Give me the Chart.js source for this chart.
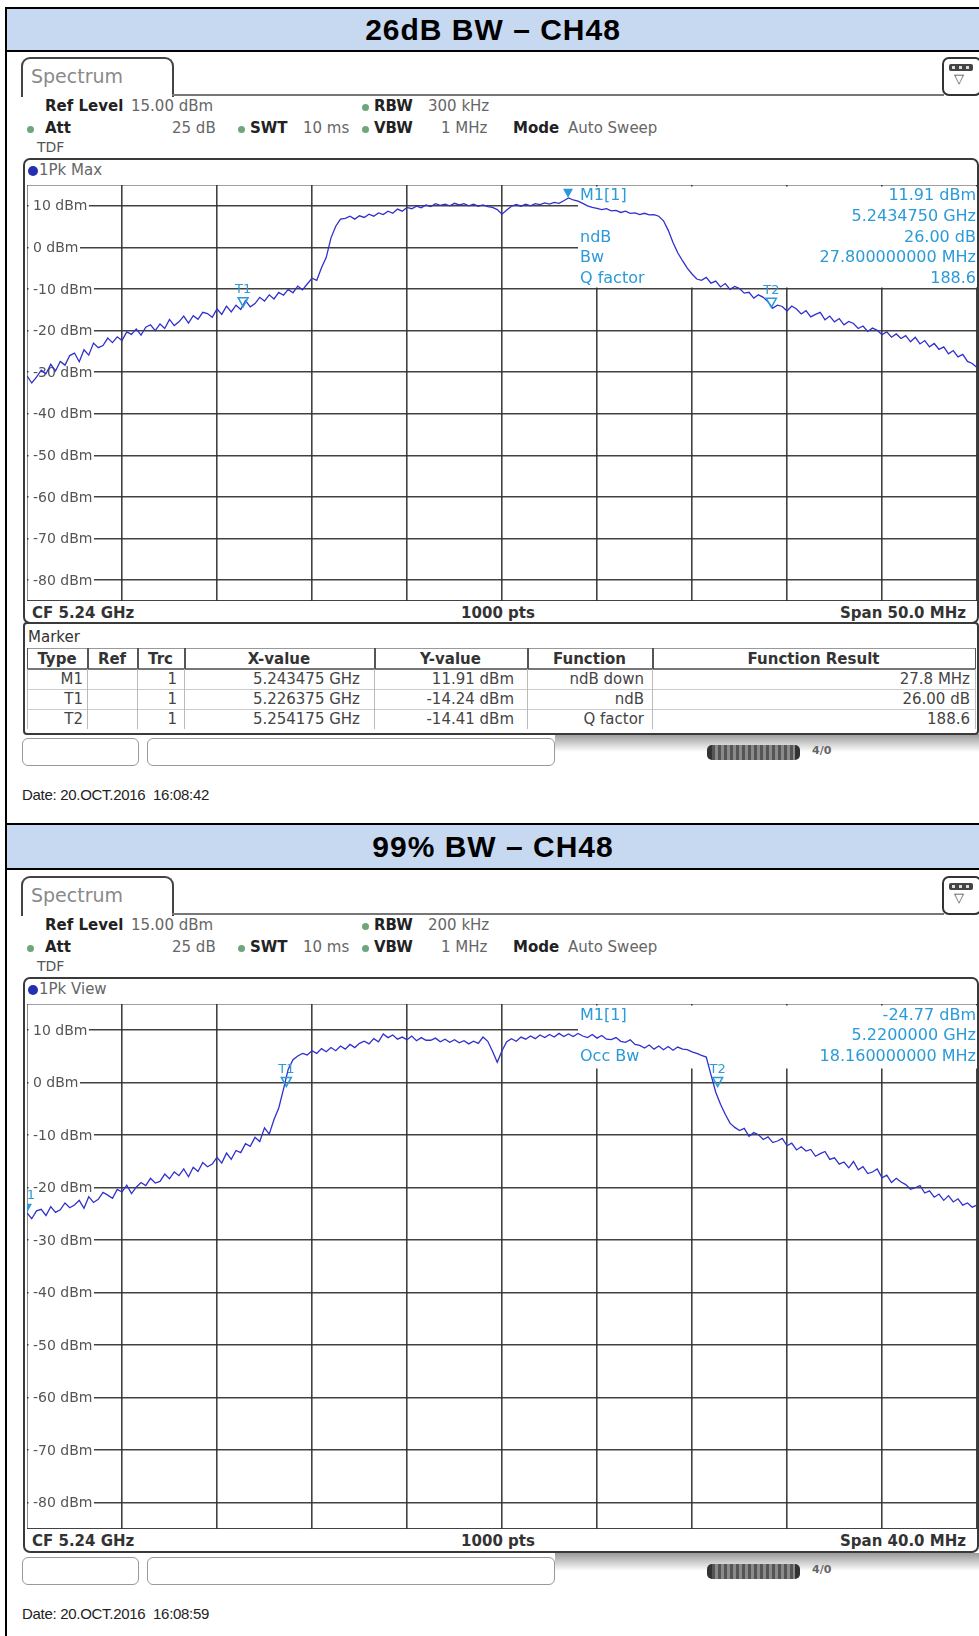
<!DOCTYPE html>
<html>
<head>
<meta charset="utf-8">
<script src="https://cdn.jsdelivr.net/npm/chart.js@4.4.1/dist/chart.umd.min.js"></script>
<style>
html,body{margin:0;padding:0;background:#fff;}
body{width:979px;height:1636px;position:relative;overflow:hidden;font-family:"DejaVu Sans",sans-serif;}
canvas{position:absolute;}
.title{position:absolute;left:7px;width:972px;text-align:center;font:bold 30px "Liberation Sans", Arial, sans-serif;letter-spacing:1px;color:#000;white-space:nowrap;}
</style>
</head>
<body>
<script>
// ---------------- DATA ----------------
const titles = ['26dB BW \u2013 CH48', '99% BW \u2013 CH48'];
const span26MHz = [5215, 5265];   // CF 5.24 GHz, span 50 MHz
const span99MHz = [5220, 5260];   // CF 5.24 GHz, span 40 MHz
const yGridValues = [15, 10, 0, -10, -20, -30, -40, -50, -60, -70, -80, -85];
const yTickValues = [10, 0, -10, -20, -30, -40, -50, -60, -70, -80];
const yTickLabels = ['10 dBm','0 dBm','-10 dBm','-20 dBm','-30 dBm','-40 dBm','-50 dBm','-60 dBm','-70 dBm','-80 dBm'];

// trace of 26 dB BW plot, dBm, evenly spaced sweep points over the span
const trace26dB = [
-30.9,-32.6,-31.2,-29.5, -30.4,-28.1,-29.7,-27.4, -28.3,-26.0,-25.4,-27.5, -24.6,-25.9,-23.0,-24.1,
-23.6,-21.8,-22.9,-21.5, -22.4,-20.3,-20.9,-19.6, -21.1,-19.2,-18.6,-20.0, -18.4,-19.5,-17.3,-18.8,
-17.9,-16.5,-18.2,-16.4, -17.3,-15.6,-15.9,-16.8, -14.8,-16.1,-14.1,-15.5, -13.9,-14.9,-12.8,-14.3,
-13.5,-12.0,-12.9,-11.4, -12.4,-10.8,-11.5,-10.1, -10.9,-9.3,-10.2,-8.8, -7.4,-7.9,-4.9,-2.4,
2.3,5.1,6.8,7.0, 7.5,6.8,7.6,7.2, 8.0,7.5,8.3,7.9, 8.7,8.2,9.2,8.7,
9.6,9.3,9.9,9.5, 10.2,9.8,10.5,10.1, 10.4,10.0,10.6,10.2, 10.5,10.0,10.4,9.9,
10.2,9.8,9.6,9.1, 8.0,9.0,9.9,10.3, 9.9,10.4,10.0,10.5, 10.3,10.7,10.4,10.8,
10.6,11.2,11.9,11.4, 11.1,10.6,10.0,9.6, 9.4,9.1,9.3,8.8, 8.9,8.4,8.7,8.2,
8.3,7.9,8.2,7.8, 7.9,7.5,6.4,4.1, 1.2,-1.3,-3.2,-5.0, -6.4,-7.6,-7.9,-7.2,
-8.6,-8.1,-9.5,-8.7, -10.1,-9.4,-9.9,-11.0, -10.8,-12.2,-11.4,-12.0, -13.1,-14.6,-13.9,-14.2,
-15.3,-14.1,-14.8,-16.0, -15.2,-16.7,-16.1,-15.6, -17.4,-16.5,-17.9,-17.1, -18.6,-17.8,-18.3,-19.5,
-18.9,-20.2,-19.4,-19.9, -21.0,-20.3,-21.6,-20.8, -21.9,-21.2,-22.7,-21.6, -23.2,-22.4,-23.9,-23.1,
-24.5,-23.9,-25.6,-24.8, -26.3,-25.7,-27.4,-27.9, -28.9
];

// trace of 99% BW plot, dBm, evenly spaced sweep points over the span
const trace99pct = [
-24.8,-25.9,-24.4,-24.1,-25.3, -23.6,-24.7,-24.2,-22.9,-23.8, -23.3,-22.4,-23.9,-21.7,-22.8,
-22.2,-20.9,-21.4,-22.0,-20.3, -20.8,-19.5,-21.1,-19.9,-19.0, -19.6,-18.2,-19.1,-18.8,-17.4,
-18.3,-17.0,-17.7,-16.4,-17.9, -16.1,-16.9,-15.2,-16.0,-15.5, -14.2,-15.3,-13.4,-14.6,-12.9,
-13.3,-11.6,-12.1,-10.4,-11.2, -8.6,-9.8,-7.0,-4.8,-1.2, 2.6,4.4,5.1,5.6,5.3,
6.1,5.6,6.5,5.9,6.7, 6.1,7.0,6.4,7.3,6.7, 7.5,7.9,7.4,8.4,7.8,
9.3,8.6,9.1,8.3,8.7, 8.2,8.9,8.0,8.6,8.1, 8.1,8.5,7.8,8.3,7.7,
8.2,7.6,8.0,7.4,7.9, 7.5,8.7,7.9,6.0,3.9, 6.1,7.8,8.4,7.9,8.7,
8.3,8.9,8.4,9.1,8.6, 9.2,8.7,9.4,8.8,9.3, 8.8,9.4,8.9,8.6,9.2,
8.5,9.0,8.3,8.2,8.6, 7.9,7.7,8.2,7.3,7.1, 6.6,7.2,6.4,7.0,6.3,
6.9,6.2,6.8,6.4,6.3, 5.9,5.6,5.2,4.9,1.5, -1.8,-4.1,-6.0,-7.7,-8.5,
-9.1,-8.7,-10.2,-9.5,-9.9, -10.8,-10.3,-11.4,-11.1,-10.6, -12.0,-11.5,-12.8,-12.2,-13.0,
-12.7,-14.0,-13.5,-13.1,-14.6, -14.3,-15.5,-15.1,-16.2,-15.0, -16.6,-16.0,-17.3,-17.0,-16.4,
-18.1,-17.6,-19.0,-18.2,-18.9, -19.4,-20.3,-20.0,-19.6,-21.0, -20.6,-21.8,-21.2,-22.4,-21.5,
-22.7,-22.1,-23.3,-22.9,-23.7, -23.3
];

const markers26 = [
  {name:'M1', f:5243.475, y:11.91, filled:true, label:''},
  {name:'T1', f:5226.375, y:-14.24, filled:false, label:'T1'},
  {name:'T2', f:5254.175, y:-14.41, filled:false, label:'T2'}
];
const markers99 = [
  {name:'M1', f:5220.0, y:-24.77, filled:true, label:'1'},
  {name:'T1', f:5230.92, y:-0.7, filled:false, label:'T1'},
  {name:'T2', f:5249.08, y:-0.7, filled:false, label:'T2'}
];

const info26Left  = ['M1[1]', '', 'ndB', 'Bw', 'Q factor'];
const info26Right = ['11.91 dBm', '5.2434750 GHz', '26.00 dB', '27.800000000 MHz', '188.6'];
const info99Left  = ['M1[1]', '', 'Occ Bw'];
const info99Right = ['-24.77 dBm', '5.2200000 GHz', '18.160000000 MHz'];

const markerTableHeader = ['Type','Ref','Trc','X-value','Y-value','Function','Function Result'];
const markerTableRows = [
  ['M1','','1','5.243475 GHz','11.91 dBm','ndB down','27.8 MHz'],
  ['T1','','1','5.226375 GHz','-14.24 dBm','ndB','26.00 dB'],
  ['T2','','1','5.254175 GHz','-14.41 dBm','Q factor','188.6']
];

const settings26 = {rbw:'300 kHz', trace:'1Pk Max', span:'Span 50.0 MHz', date:'Date: 20.OCT.2016&nbsp; 16:08:42'};
const settings99 = {rbw:'200 kHz', trace:'1Pk View', span:'Span 40.0 MHz', date:'Date: 20.OCT.2016&nbsp; 16:08:59'};

// ---------------- LAYOUT HELPERS ----------------
const W = 979;
function add(css, html){
  const d = document.createElement('div');
  d.style.cssText = 'position:absolute;' + css;
  if (html !== undefined) d.innerHTML = html;
  document.body.appendChild(d);
  return d;
}
function text(x, y, s, font, color, align, extra){
  let css = `top:${y-9}px;height:22px;line-height:22px;font:${font};color:${color};white-space:nowrap;` + (extra||'');
  if (align === 'r') css += `right:${W-x}px;text-align:right;`;
  else if (align === 'c') css += `left:${x-300}px;width:600px;text-align:center;`;
  else css += `left:${x}px;`;
  return add(css, s);
}
function dot(x, y, color, r){
  add(`left:${x-r}px;top:${y-r}px;width:${2*r}px;height:${2*r}px;border-radius:50%;background:${color};`);
}

const F = '"DejaVu Sans", Verdana, sans-serif';
const MC = '#2a9ad8';

// ---------------- OUTER TABLE ----------------
add('left:5px;top:7px;width:2px;height:1629px;background:#000;');
add('left:5px;top:7px;width:974px;height:2px;background:#000;');
add('left:7px;top:9px;width:972px;height:41px;background:#c6d9f1;');
add('left:5px;top:50px;width:974px;height:2px;background:#000;');
{ const t = add('', titles[0]); t.className = 'title'; t.style.top = '9px'; t.style.height = '41px'; t.style.lineHeight = '41px'; }

add('left:5px;top:823px;width:974px;height:2px;background:#000;');
add('left:7px;top:825px;width:972px;height:43px;background:#c6d9f1;');
add('left:5px;top:868px;width:974px;height:2px;background:#000;');
{ const t = add('', titles[1]); t.className = 'title'; t.style.top = '825px'; t.style.height = '43px'; t.style.lineHeight = '43px'; }

// ---------------- SCREENSHOT BUILDER ----------------
function buildShot(o){
  const oy = o.oy;
  add(`left:21px;top:${57+oy}px;width:153px;height:40px;border:2px solid #444;border-bottom:none;border-radius:9px 9px 0 0;box-sizing:border-box;background:#fff;`);
  add(`left:172px;top:${94+oy}px;width:772px;height:2px;background:#777;`);
  text(31, 74+oy, 'Spectrum', `19px ${F}`, '#8a8a8a');
  add(`left:942px;top:${57+oy}px;width:40px;height:39px;border:2px solid #333;border-radius:7px;box-sizing:border-box;background:#fff;`);
  add(`left:949px;top:${64+oy}px;width:24px;height:7px;background:#444;border-radius:2px;`);
  [952,959,966].forEach(xx=>add(`left:${xx}px;top:${66+oy}px;width:3px;height:3px;background:#ddd;`));
  text(954, 80+oy, '\u25BD', `13px ${F}`, '#444');

  const hb = `bold 15px ${F}`, hn = `15px ${F}`;
  text(45, 106+oy, 'Ref Level', hb, '#222');
  text(131, 106+oy, '15.00 dBm', hn, '#666');
  dot(365, 107+oy, '#6fa57a', 3.5);
  text(374, 106+oy, 'RBW', hb, '#222');
  text(428, 106+oy, o.rbw, hn, '#666');
  dot(30, 129+oy, '#6fa57a', 3.5);
  text(45, 128+oy, 'Att', hb, '#222');
  text(172, 128+oy, '25 dB', hn, '#666');
  dot(241, 129+oy, '#6fa57a', 3.5);
  text(250, 128+oy, 'SWT', hb, '#222');
  text(303, 128+oy, '10 ms', hn, '#666');
  dot(365, 129+oy, '#6fa57a', 3.5);
  text(374, 128+oy, 'VBW', hb, '#222');
  text(441, 128+oy, '1 MHz', hn, '#666');
  text(513, 128+oy, 'Mode', hb, '#222');
  text(568, 128+oy, 'Auto Sweep', hn, '#666');
  text(37, 148+oy, 'TDF', `14px ${F}`, '#555');

  const ft = 158+oy, fb = o.frameBottom;
  add(`left:23px;top:${ft}px;width:956px;height:${fb-ft}px;border:2px solid #3a3a3a;border-radius:7px;box-sizing:border-box;`);
  dot(33, 171+oy, '#2530b0', 5);
  text(39, 170+oy, o.trace, `15px ${F}`, '#666');

  const pb = 185 + oy + o.plotH;
  text(32, pb+12, 'CF 5.24 GHz', `bold 15px ${F}`, '#333');
  text(498, pb+12, '1000 pts', `bold 15px ${F}`, '#333', 'c');
  text(966, pb+12, o.span, `bold 15px ${F}`, '#333', 'r');

  const cv = document.createElement('canvas');
  cv.width = 950; cv.height = o.plotH;
  cv.style.left = '27px'; cv.style.top = (185+oy) + 'px';
  document.body.appendChild(cv);

  const st = o.statusTop;
  add(`left:555px;top:${st-4}px;width:424px;height:18px;background:linear-gradient(#9a9a9a,#fff);`);
  add(`left:22px;top:${st}px;width:117px;height:28px;border:1.5px solid #999;border-radius:6px;box-sizing:border-box;background:#fff;`);
  add(`left:147px;top:${st}px;width:408px;height:28px;border:1.5px solid #999;border-radius:6px;box-sizing:border-box;background:#fff;`);
  add(`left:707px;top:${st+7}px;width:93px;height:15px;border-radius:5px;background:repeating-linear-gradient(90deg,#555 0 3px,#8a8a8a 3px 6px);border-left:5px solid #333;border-right:5px solid #333;box-sizing:border-box;`);
  text(812, st+15, '4/0', `bold 11px ${F}`, '#666');
  text(22, st+57, o.date, '15px "Liberation Sans", Arial, sans-serif', '#222', 'l', 'letter-spacing:-0.3px;');
  return cv;
}

function buildMarkerTable(){
  add('left:23px;top:622px;width:956px;height:113px;border:2px solid #3a3a3a;border-radius:4px;box-sizing:border-box;');
  text(28, 637, 'Marker', `15px ${F}`, '#333');
  const cols = [27, 87, 137, 184, 374, 527, 652, 975];
  const pads = [4, 0, 7, 14, 13, 8, 5];
  add('left:27px;top:648px;width:948px;height:1px;background:#999;');
  add('left:27px;top:668px;width:948px;height:2px;background:#777;');
  [689, 709].forEach(yy => add(`left:27px;top:${yy}px;width:948px;height:1px;background:#ccc;`));
  cols.forEach((cx, i) => {
    add(`left:${cx}px;top:648px;width:${i===0||i===cols.length-1?1:2}px;height:21px;background:#555;`);
    add(`left:${cx}px;top:669px;width:1px;height:60px;background:#bbb;`);
  });
  markerTableHeader.forEach((h, i) => {
    text((cols[i]+cols[i+1])/2, 659, h, `bold 15px ${F}`, '#333', 'c');
  });
  markerTableRows.forEach((r, ri) => {
    r.forEach((c, i) => {
      if (c) text(cols[i+1]-pads[i], 679 + ri*20, c, `15px ${F}`, '#444', 'r');
    });
  });
}

// ---------------- CHART ----------------
function makeOverlay(id, markers, infoL, infoR, rowsY, boxH){
  return {
    id: 'ov' + id,
    beforeDatasetsDraw(chart){
      const {ctx, chartArea: a, scales: {x, y}} = chart;
      ctx.save();
      ctx.fillStyle = '#fff';
      ctx.fillRect(a.left + 551, a.top + 1.5, a.right - a.left - 551, boxH);
      ctx.font = `14px ${F}`;
      ctx.textBaseline = 'middle';
      yTickValues.forEach((v, i) => {
        const py = y.getPixelForValue(v);
        const s = yTickLabels[i];
        const w = ctx.measureText(s).width;
        ctx.fillStyle = '#fff';
        ctx.fillRect(a.left + 1.5, py - 8, w + 6, 16);
        ctx.fillStyle = '#555';
        ctx.fillText(s, a.left + 6, py + 1);
      });
      ctx.font = `16px ${F}`;
      ctx.fillStyle = MC;
      infoL.forEach((s, i) => { if (s) { ctx.textAlign = 'left'; ctx.fillText(s, a.left + 553, a.top + rowsY[i]); } });
      infoR.forEach((s, i) => { ctx.textAlign = 'right'; ctx.fillText(s, a.right - 1, a.top + rowsY[i]); });
      ctx.restore();
    },
    afterDatasetsDraw(chart){
      const {ctx, scales: {x, y}} = chart;
      ctx.save();
      ctx.fillStyle = MC; ctx.strokeStyle = MC; ctx.lineWidth = 1.5;
      ctx.font = `13px ${F}`; ctx.textAlign = 'center'; ctx.textBaseline = 'middle';
      markers.forEach(m => {
        const px = x.getPixelForValue(m.f), py = y.getPixelForValue(m.y);
        ctx.beginPath();
        ctx.moveTo(px - 5, py - 9); ctx.lineTo(px + 5, py - 9); ctx.lineTo(px, py); ctx.closePath();
        if (m.filled) ctx.fill(); else ctx.stroke();
        if (m.label) ctx.fillText(m.label, px + (m.name === 'M1' ? 4 : 0), py - 17);
      });
      ctx.restore();
    }
  };
}

function makeChart(cv, trace, span, markers, infoL, infoR, rowsY, boxH, id){
  const step = (span[1] - span[0]) / (trace.length - 1);
  const pts = trace.map((v, i) => ({x: span[0] + i * step, y: v}));
  const xGrid = [];
  for (let k = 0; k <= 10; k++) xGrid.push(span[0] + k * (span[1] - span[0]) / 10);
  const gridOpts = {color: 'rgba(45,45,45,0.9)', lineWidth: 1.6, drawTicks: false};
  return new Chart(cv.getContext('2d'), {
    type: 'line',
    data: {datasets: [{data: pts, borderColor: '#3030cc', borderWidth: 1.3, pointRadius: 0, tension: 0, fill: false}]},
    options: {
      responsive: false, animation: false, events: [],
      layout: {padding: 0},
      plugins: {legend: {display: false}, tooltip: {enabled: false}},
      scales: {
        x: {type: 'linear', min: span[0], max: span[1], display: true,
            ticks: {display: false}, grid: gridOpts, border: {display: false},
            afterBuildTicks: s => { s.ticks = xGrid.map(v => ({value: v})); }},
        y: {type: 'linear', min: -85, max: 15, display: true,
            ticks: {display: false}, grid: gridOpts, border: {display: false},
            afterBuildTicks: s => { s.ticks = yGridValues.map(v => ({value: v})); }}
      }
    },
    plugins: [makeOverlay(id, markers, infoL, infoR, rowsY, boxH)]
  });
}

const cv1 = buildShot(Object.assign({oy: 0, plotH: 416, frameBottom: 624, statusTop: 738}, settings26));
buildMarkerTable();
makeChart(cv1, trace26dB, span26MHz, markers26, info26Left, info26Right, [11, 32, 53, 73, 94], 101, 1);

const cv2 = buildShot(Object.assign({oy: 819, plotH: 525, frameBottom: 1553, statusTop: 1557}, settings99));
makeChart(cv2, trace99pct, span99MHz, markers99, info99Left, info99Right, [12, 32, 53], 63, 2);
</script>
</body>
</html>
